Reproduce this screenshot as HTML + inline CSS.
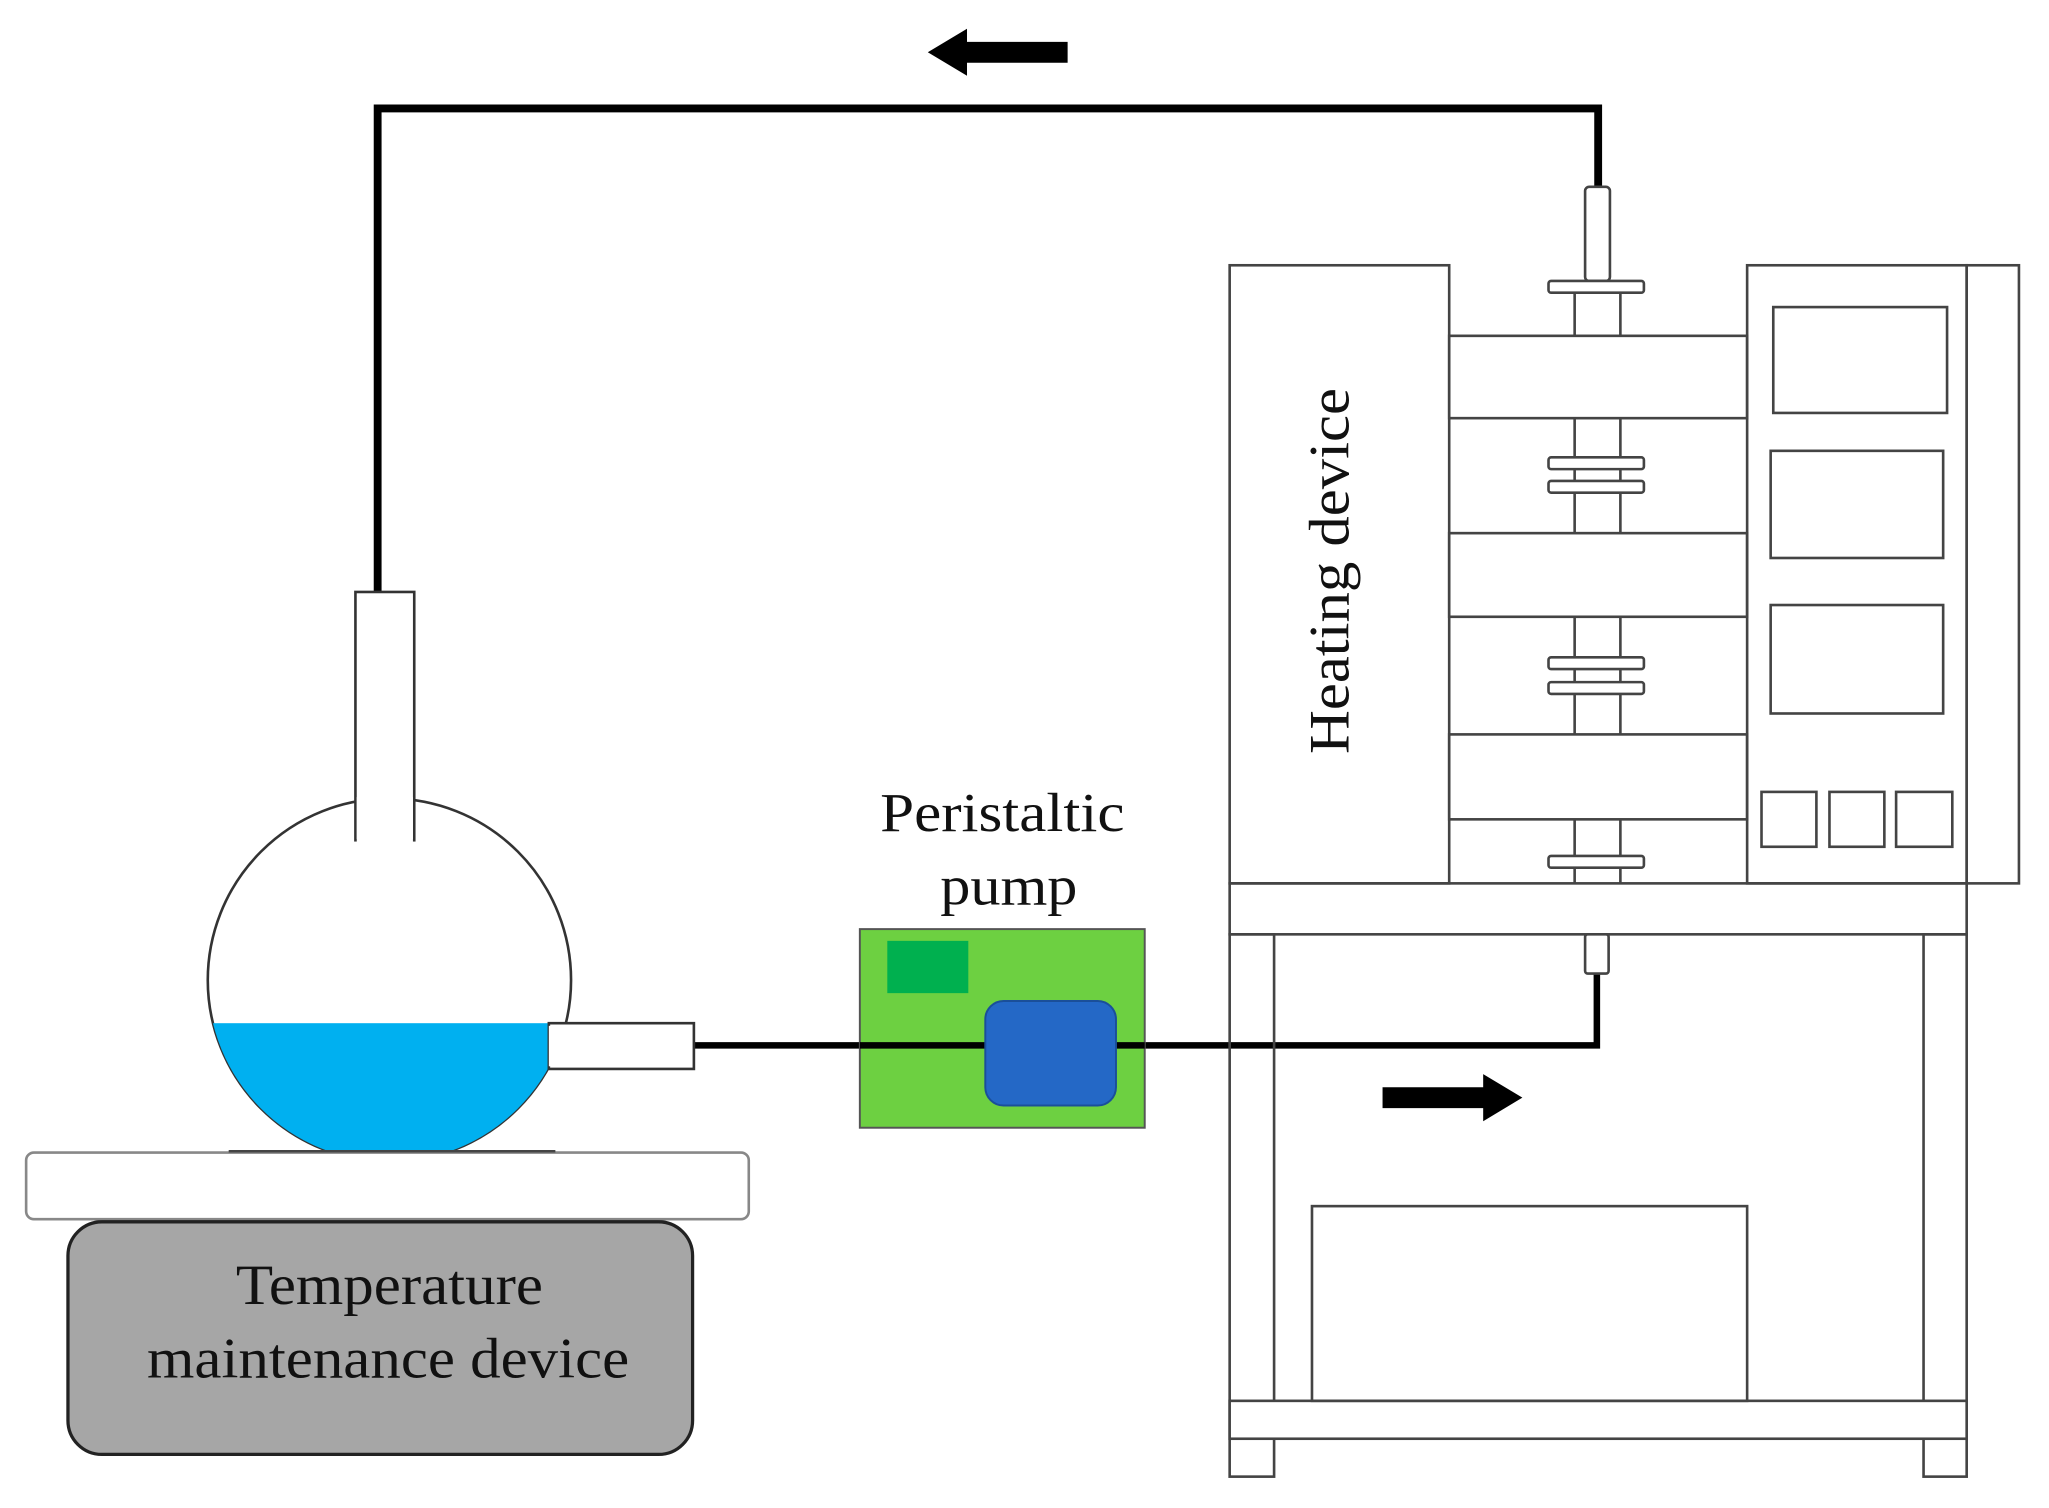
<!DOCTYPE html>
<html><head><meta charset="utf-8"><style>html,body{margin:0;padding:0;background:#fff}svg{display:block}</style></head>
<body>
<svg width="2049" height="1508" viewBox="0 0 1568 1154" preserveAspectRatio="none" xmlns="http://www.w3.org/2000/svg">
<rect width="1568" height="1154" fill="#fff"/>
<polygon points="817,32 740,32 740,22 710,40 740,58 740,48 817,48" fill="#000"/>
<polygon points="1058,832 1135,832 1135,822 1165,840 1135,858 1135,848 1058,848" fill="#000"/>
<polyline points="289,455 289,83 1223,83 1223,143" fill="none" stroke="#000" stroke-width="6"/>
<polyline points="531,800 1222,800 1222,745" fill="none" stroke="#000" stroke-width="5"/>
<g fill="none" stroke="#444" stroke-width="2">
<rect x="941" y="203" width="168" height="473" fill="#fff"/>
<rect x="1109" y="257" width="228" height="63"/>
<rect x="1109" y="408" width="228" height="64"/>
<rect x="1109" y="562" width="228" height="65"/>
<rect x="1337" y="203" width="168" height="473"/>
<rect x="1505" y="203" width="40" height="473"/>
<rect x="1357" y="235" width="133" height="81"/>
<rect x="1355" y="345" width="132" height="82"/>
<rect x="1355" y="463" width="132" height="83"/>
<rect x="1348" y="606" width="42" height="42"/>
<rect x="1400" y="606" width="42" height="42"/>
<rect x="1451" y="606" width="43" height="42"/>
<rect x="1213" y="143" width="19" height="72" rx="3" fill="#fff"/>
<rect x="1185" y="215" width="73" height="9" rx="2" fill="#fff"/>
<line x1="1205" y1="224" x2="1205" y2="257"/><line x1="1240" y1="224" x2="1240" y2="257"/>
<line x1="1205" y1="320" x2="1205" y2="408"/><line x1="1240" y1="320" x2="1240" y2="408"/>
<rect x="1185" y="350" width="73" height="9" rx="2" fill="#fff"/>
<rect x="1185" y="368" width="73" height="9" rx="2" fill="#fff"/>
<line x1="1205" y1="472" x2="1205" y2="562"/><line x1="1240" y1="472" x2="1240" y2="562"/>
<rect x="1185" y="503" width="73" height="9" rx="2" fill="#fff"/>
<rect x="1185" y="522" width="73" height="9" rx="2" fill="#fff"/>
<line x1="1205" y1="627" x2="1205" y2="676"/><line x1="1240" y1="627" x2="1240" y2="676"/>
<rect x="1185" y="655" width="73" height="9" rx="2" fill="#fff"/>
<rect x="941" y="676" width="564" height="39"/>
<rect x="941" y="715" width="34" height="415"/>
<rect x="1472" y="715" width="33" height="415"/>
<rect x="941" y="1072" width="564" height="29" fill="#fff"/>
<rect x="1004" y="923" width="333" height="149"/>
<rect x="1213" y="715" width="18" height="30" rx="2" fill="#fff"/>
</g>
<text transform="translate(1032,437) rotate(-90)" text-anchor="middle" font-family="Liberation Serif, serif" font-size="44" fill="#111" textLength="280" lengthAdjust="spacingAndGlyphs">Heating device</text>
<clipPath id="c"><circle cx="298" cy="750" r="139"/></clipPath>
<circle cx="298" cy="750" r="139" fill="#fff" stroke="#333" stroke-width="2"/>
<rect x="150" y="783" width="300" height="120" fill="#00b0f0" clip-path="url(#c)"/>
<rect x="420" y="783" width="111" height="35" fill="#fff" stroke="#333" stroke-width="2"/>
<rect x="420" y="785" width="8" height="31" fill="#fff"/>
<rect x="272" y="453" width="45" height="190" fill="#fff" stroke="#333" stroke-width="2"/>
<rect x="273" y="610" width="43" height="40" fill="#fff"/>
<rect x="20" y="882" width="553" height="51" rx="6" fill="#fff" stroke="#888" stroke-width="2"/>
<line x1="175" y1="881" x2="425" y2="881" stroke="#444" stroke-width="2"/>
<rect x="52" y="935" width="478" height="178" rx="26" fill="#a6a6a6" stroke="#222" stroke-width="2.5"/>
<g font-family="Liberation Serif, serif" font-size="44" fill="#111" text-anchor="middle" lengthAdjust="spacingAndGlyphs">
<text x="298" y="998" textLength="235" lengthAdjust="spacingAndGlyphs">Temperature</text>
<text x="297" y="1054" textLength="369" lengthAdjust="spacingAndGlyphs">maintenance device</text>
</g>
<rect x="658" y="711" width="218" height="152" fill="#6dd041" stroke="#555" stroke-width="1.5"/>
<rect x="679" y="720" width="62" height="40" fill="#00b04f"/>
<line x1="658" y1="800" x2="876" y2="800" stroke="#000" stroke-width="5"/>
<rect x="754" y="766" width="100" height="80" rx="14" fill="#2468c6" stroke="#1a4f9a" stroke-width="1.5"/>
<g font-family="Liberation Serif, serif" font-size="42" fill="#111" text-anchor="middle">
<text x="767" y="636" textLength="187" lengthAdjust="spacingAndGlyphs">Peristaltic</text>
<text x="772" y="692" textLength="105" lengthAdjust="spacingAndGlyphs">pump</text>
</g>
</svg>
</body></html>
